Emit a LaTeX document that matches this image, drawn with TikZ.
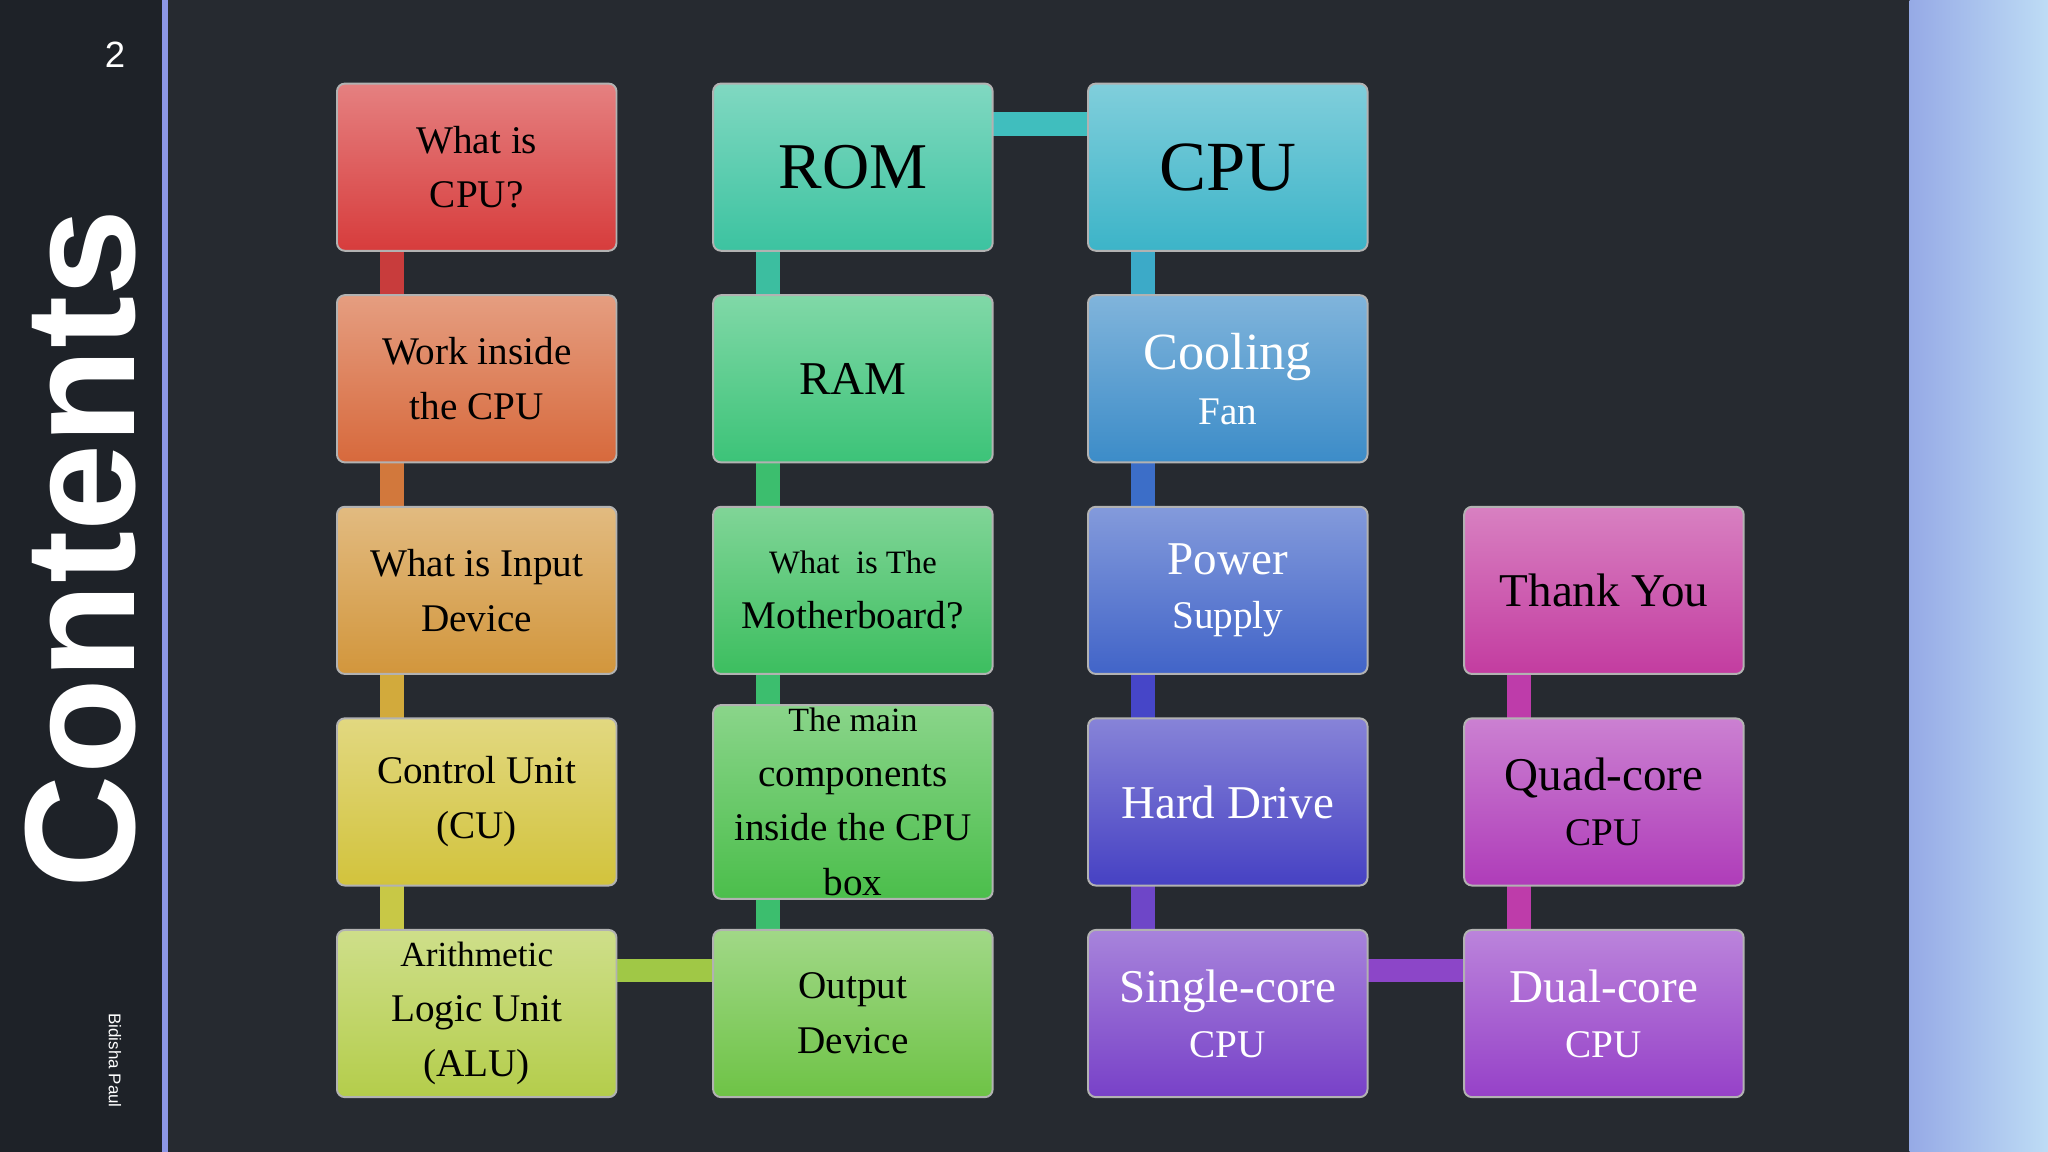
\documentclass[tikz,border=0pt]{standalone}
\usepackage{fontspec}
\setmainfont{Liberation Serif}
\newfontfamily\sansf{Liberation Sans}
\begin{document}
\begin{tikzpicture}[x=1pt,y=-1pt,
 box/.style={draw=white!70!black,line width=1.5pt,rounded corners=6pt,minimum width=214pt,minimum height=128pt,align=center,inner sep=2pt,font=\fontsize{30}{42}\selectfont},
 bar/.style={line width=18pt}]
\definecolor{bg}{RGB}{38,42,48}
\definecolor{side}{RGB}{30,34,40}
\definecolor{lineb}{RGB}{140,150,230}
\definecolor{rl}{RGB}{150,170,230}
\definecolor{rr}{RGB}{190,220,245}
\useasboundingbox (0,0) rectangle (1568,882);
\fill[bg] (0,0) rectangle (1568,882);
\fill[side] (0,0) rectangle (124,882);
\fill[lineb] (124,0) rectangle (129,882);
\shade[left color=rl,right color=rr] (1462,0) rectangle (1568,882);
\node[text=white,font=\sansf\fontsize{28}{30}\selectfont] (num) at (88,42) {2};
\node[rotate=90,text=white,font=\sansf\bfseries\fontsize{120}{120}\selectfont] (cont) at (62,420) {Contents};
\node[rotate=-90,text=white,font=\sansf\fontsize{13}{14}\selectfont] (auth) at (88,812) {Bidisha Paul};
\def\cA{365}\def\cB{653}\def\cC{940}\def\cD{1228}
\newcommand\br[3]{\definecolor{tmpc}{RGB}{#1}\draw[bar,tmpc] #2--#3;}
\br{200,60,60}{(300,128)}{(300,290)}
\br{210,120,60}{(300,290)}{(300,452)}
\br{210,170,60}{(300,452)}{(300,614)}
\br{200,200,70}{(300,614)}{(300,776)}
\br{60,190,160}{(588,128)}{(588,290)}
\br{60,190,110}{(588,290)}{(588,776)}
\br{60,170,200}{(875,128)}{(875,290)}
\br{60,110,200}{(875,290)}{(875,452)}
\br{70,70,200}{(875,452)}{(875,614)}
\br{110,70,200}{(875,614)}{(875,776)}
\br{190,60,170}{(1163,452)}{(1163,776)}
\br{64,190,190}{(653,95)}{(940,95)}
\br{160,200,70}{(365,743)}{(653,743)}
\br{140,70,200}{(940,743)}{(1228,743)}
\newcommand\bx[5]{\definecolor{c#1}{RGB}{#4}\node[box,top color=c#1!65!white,bottom color=c#1,text=#5] (#1) at #2 {#3};}
\bx{aa}{(\cA,128)}{What is\\CPU?}{215,60,60}{black}
\bx{ab}{(\cA,290)}{Work inside\\the CPU}{215,105,60}{black}
\bx{ac}{(\cA,452)}{What is Input\\Device}{210,150,60}{black}
\bx{ad}{(\cA,614)}{Control Unit\\(CU)}{210,195,60}{black}
\bx{ae}{(\cA,776)}{\fontsize{27}{41}\selectfont Arithmetic\\Logic Unit\\(ALU)}{180,205,75}{black}
\bx{ba}{(\cB,128)}{\fontsize{50}{55}\selectfont ROM}{60,195,160}{black}
\bx{bb}{(\cB,290)}{\fontsize{36}{40}\selectfont RAM}{60,195,120}{black}
\bx{bc}{(\cB,452)}{\fontsize{25}{36}\selectfont What\ \ is The\\Motherboard?}{60,190,95}{black}
\bx{bd}{(\cB,614)}{\fontsize{26}{40}\selectfont The main\\components\\inside the CPU\\box}{75,190,75}{black}
\bx{be}{(\cB,776)}{Output\\Device}{110,195,70}{black}
\bx{ca}{(\cC,128)}{\fontsize{54}{58}\selectfont CPU}{60,180,200}{black}
\bx{cb}{(\cC,290)}{\fontsize{40}{62}\selectfont Cooling\\Fan}{60,140,200}{white}
\bx{cc}{(\cC,452)}{\fontsize{36}{54}\selectfont Power\\Supply}{65,100,200}{white}
\bx{cd}{(\cC,614)}{\fontsize{36}{40}\selectfont Hard Drive}{70,65,195}{white}
\bx{ce}{(\cC,776)}{\fontsize{36}{52}\selectfont Single-core\\CPU}{120,65,200}{white}
\bx{dc}{(\cD,452)}{\fontsize{36}{40}\selectfont Thank You}{195,60,160}{black}
\bx{dd}{(\cD,614)}{\fontsize{36}{52}\selectfont Quad-core\\CPU}{175,60,185}{black}
\bx{de}{(\cD,776)}{\fontsize{36}{52}\selectfont Dual-core\\CPU}{150,65,200}{white}
\end{tikzpicture}
\end{document}
